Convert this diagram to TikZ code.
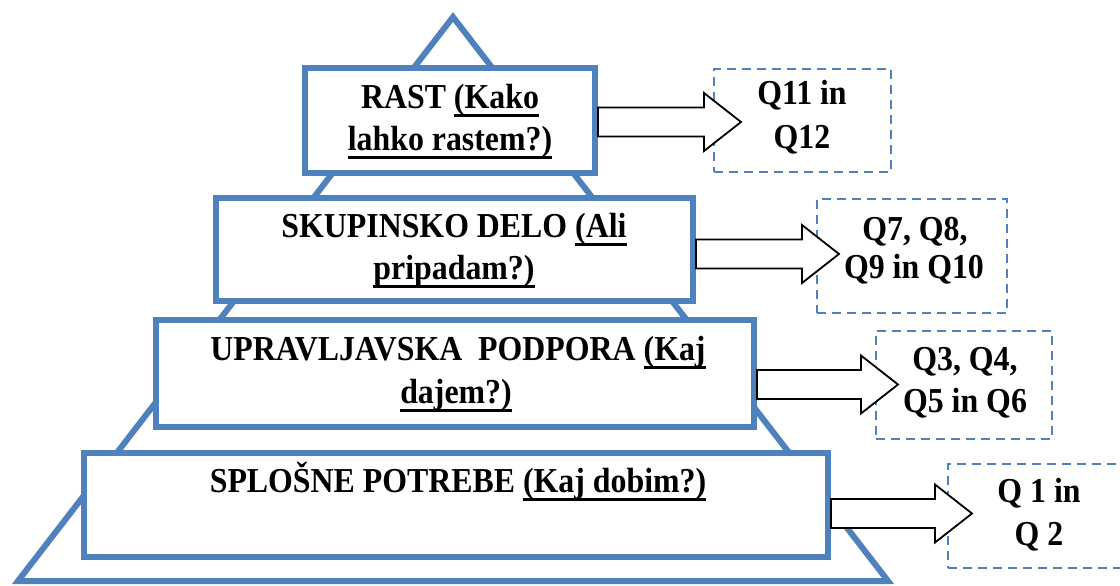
\documentclass[tikz,border=0pt]{standalone}
\usepackage{fontspec}
\setmainfont{Liberation Serif}[FakeStretch=0.91]
\usetikzlibrary{calc}
\definecolor{pblue}{HTML}{4F81BD}
\newsavebox\ulbox
\newcommand\myul[1]{\sbox\ulbox{#1}\rlap{\rule[-9pt]{\wd\ulbox}{3.5pt}}\usebox\ulbox}
\newcommand\barrow[4]{%
  \path (#1.east |- 0,#3) coordinate (#1-s) ($(#2.west |- 0,#3)+(#4,0)$) coordinate (#1-t);
  \draw[blockarr] ($(#1-s)+(0,-14.5)$) -- ($(#1-t)+(-37,-14.5)$) -- ($(#1-t)+(-37,-29)$) -- (#1-t)
     -- ($(#1-t)+(-37,29)$) -- ($(#1-t)+(-37,14.5)$) -- ($(#1-s)+(0,14.5)$) -- cycle;}
\tikzset{
  tri/.style={draw=pblue, line width=6pt, line join=miter},
  pbox/.style={draw=pblue, line width=6pt, fill=white, inner sep=0pt},
  qbox/.style={draw=pblue, line width=2pt, dash pattern=on 9pt off 6pt, inner sep=0pt},
  blockarr/.style={draw=black, line width=1.8pt, fill=white, line join=miter},
  txt/.style={font=\fontsize{35}{42}\selectfont\bfseries, anchor=base, inner sep=0pt}
}
\begin{document}
\begin{tikzpicture}[x=1pt,y=-1pt]
\clip (0,0) rectangle (1120,586);
\fill[white] (0,0) rectangle (1120,586);
% pyramid
\draw[tri] (453,17) -- (888,581) -- (18,581) -- cycle;
% level boxes
\node[pbox, minimum width=290pt, minimum height=105pt] (rast)  at (450,120.5) {};
\node[pbox, minimum width=477pt, minimum height=103pt] (skup)  at (454.5,249.5) {};
\node[pbox, minimum width=598pt, minimum height=107pt] (uprav) at (455,373.5) {};
\node[pbox, minimum width=744pt, minimum height=104pt] (splos) at (456,505) {};
% question boxes
\node[qbox, minimum width=177pt, minimum height=103pt] (d1) at (802.5,120.5) {};
\node[qbox, minimum width=190pt, minimum height=114pt] (d2) at (912,256) {};
\node[qbox, minimum width=176pt, minimum height=108pt] (d3) at (964,385) {};
\node[qbox, minimum width=182pt, minimum height=104pt] (d4) at (1039,516) {};
% block arrows
\barrow{rast}{d1}{122}{28}
\barrow{skup}{d2}{254}{23}
\barrow{uprav}{d3}{384.5}{23}
\barrow{splos}{d4}{513.5}{25}
% texts
\node[txt] (t1a) at (450,108) {RAST \myul{(Kako}};
\node[txt] (t1b) at (450,150) {\myul{lahko rastem?)}};
\node[txt] (t2a) at (454,237) {SKUPINSKO DELO \myul{(Ali}};
\node[txt] (t2b) at (454,279) {\myul{pripadam?)}};
\node[txt] (t3a) at (458,360) {UPRAVLJAVSKA\ \ PODPORA \myul{(Kaj}};
\node[txt] (t3b) at (456,403) {\myul{dajem?)}};
\node[txt] (t4a) at (458,492) {SPLOŠNE POTREBE \myul{(Kaj dobim?)}};
\node[txt] (q1a) at (802,105) {Q11 in};
\node[txt] (q1b) at (802,148) {Q12};
\node[txt] (q2a) at (915,240) {Q7, Q8,};
\node[txt] (q2b) at (914,278) {Q9 in Q10};
\node[txt] (q3a) at (965,370) {Q3, Q4,};
\node[txt] (q3b) at (965,412) {Q5 in Q6};
\node[txt] (q4a) at (1039,502) {Q 1 in};
\node[txt] (q4b) at (1039,545) {Q 2};
\end{tikzpicture}
\end{document}
